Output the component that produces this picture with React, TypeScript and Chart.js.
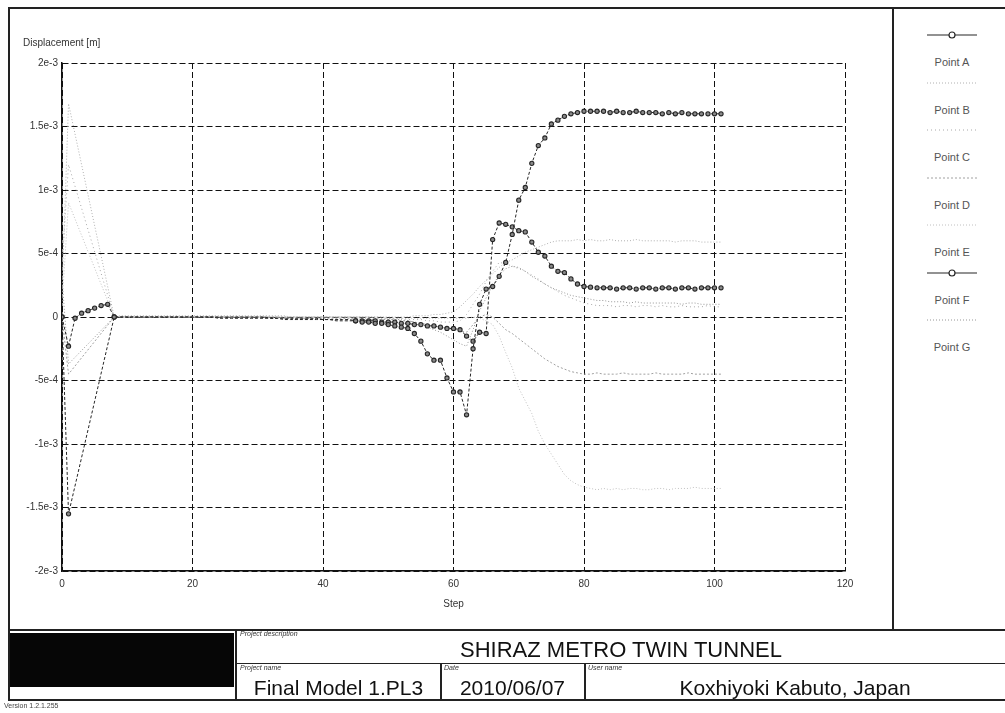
import React, { useEffect, useRef } from "react";
import { Chart, registerables } from "chart.js";

Chart.register(...registerables);

// Calculation step numbers (x axis)
const steps = [
  0, 1, 2, 3, 4, 5, 6, 7, 8, 9,
  10, 11, 12, 13, 14, 15, 16, 17, 18, 19,
  20, 21, 22, 23, 24, 25, 26, 27, 28, 29,
  30, 31, 32, 33, 34, 35, 36, 37, 38, 39,
  40, 41, 42, 43, 44, 45, 46, 47, 48, 49,
  50, 51, 52, 53, 54, 55, 56, 57, 58, 59,
  60, 61, 62, 63, 64, 65, 66, 67, 68, 69,
  70, 71, 72, 73, 74, 75, 76, 77, 78, 79,
  80, 81, 82, 83, 84, 85, 86, 87, 88, 89,
  90, 91, 92, 93, 94, 95, 96, 97, 98, 99,
  100, 101,
];

// Displacement [m] per step for each monitored point
const pointA = [
  0, -1.55e-3, null, null, null, null, null, null, 0, 0,
  0, 0, 0, 0, 0, 0, 0, 0, 0, 0,
  0, 0, 0, 0, -1e-5, -1e-5, -1e-5, -1e-5, -1e-5, -1e-5,
  -1e-5, -1e-5, -1e-5, -1e-5, -2e-5, -2e-5, -2e-5, -2e-5, -2e-5, -2e-5,
  -2e-5, -2e-5, -3e-5, -3e-5, -3e-5, -3e-5, -4e-5, -4e-5, -5e-5, -5e-5,
  -6e-5, -7e-5, -8e-5, -9e-5, -1.3e-4, -1.9e-4, -2.9e-4, -3.4e-4, -3.4e-4, -4.8e-4,
  -5.9e-4, -5.9e-4, -7.7e-4, -2.5e-4, 1.0e-4, 2.2e-4, 2.4e-4, 3.2e-4, 4.3e-4, 6.5e-4,
  9.2e-4, 1.02e-3, 1.21e-3, 1.35e-3, 1.41e-3, 1.52e-3, 1.55e-3, 1.58e-3, 1.6e-3, 1.61e-3,
  1.62e-3, 1.62e-3, 1.62e-3, 1.62e-3, 1.61e-3, 1.62e-3, 1.61e-3, 1.61e-3, 1.62e-3, 1.61e-3,
  1.61e-3, 1.61e-3, 1.6e-3, 1.61e-3, 1.6e-3, 1.61e-3, 1.6e-3, 1.6e-3, 1.6e-3, 1.6e-3,
  1.6e-3, 1.6e-3,
];

const pointB = [
  2e-4, 1.68e-3, null, null, null, null, null, null, 0, 1e-5,
  1e-5, 1e-5, 1e-5, 1e-5, 1e-5, 1e-5, 1e-5, 1e-5, 1e-5, 1e-5,
  1e-5, 1e-5, 1e-5, 1e-5, 1e-5, 1e-5, 1e-5, 1e-5, 1e-5, 1e-5,
  1e-5, 1e-5, 1e-5, 1e-5, 1e-5, 0, 0, 0, 0, 0,
  0, 0, 0, 0, 0, 0, 0, 0, 0, 0,
  0, 0, 0, 0, 1e-5, 1e-5, 1e-5, 2e-5, 2e-5, 3e-5,
  4e-5, 8e-5, 1.3e-4, 1.8e-4, 2.4e-4, 2.9e-4, 3.4e-4, 3.9e-4, 4.3e-4, 4.5e-4,
  4.8e-4, 5.1e-4, 5.3e-4, 5.5e-4, 5.7e-4, 5.9e-4, 6.0e-4, 6.0e-4, 6.0e-4, 6.1e-4,
  6.0e-4, 6.1e-4, 6.0e-4, 6.0e-4, 6.1e-4, 6.0e-4, 6.0e-4, 6.0e-4, 6.1e-4, 6.0e-4,
  6.0e-4, 6.0e-4, 6.0e-4, 6.0e-4, 5.9e-4, 6.0e-4, 6.0e-4, 6.0e-4, 5.9e-4, 5.9e-4,
  5.9e-4, 5.9e-4,
];

const pointC = [
  4e-4, 1.2e-3, null, null, null, null, null, null, 0, 0,
  0, 0, 0, 0, 0, 0, 0, 0, 0, 0,
  0, 0, 0, 0, 0, 0, 0, 0, 0, 0,
  0, 0, 0, 0, 0, 0, 0, 0, 0, 0,
  0, 0, 0, 0, 0, -1e-5, -1e-5, -1e-5, -1e-5, -1e-5,
  -1e-5, -1e-5, -1e-5, -2e-5, -2e-5, -2e-5, -3e-5, -3e-5, -4e-5, -4e-5,
  -4e-5, -3e-5, 2e-5, 1.0e-4, 1.8e-4, 2.8e-4, 3.6e-4, 4.3e-4, 4.2e-4, 4.0e-4,
  3.8e-4, 3.6e-4, 3.3e-4, 3.0e-4, 2.6e-4, 2.3e-4, 2.0e-4, 1.7e-4, 1.5e-4, 1.3e-4,
  1.1e-4, 1.0e-4, 9e-5, 9e-5, 9e-5, 8e-5, 9e-5, 9e-5, 8e-5, 9e-5,
  9e-5, 8e-5, 9e-5, 8e-5, 8e-5, 9e-5, 8e-5, 8e-5, 8e-5, 9e-5,
  8e-5, 8e-5,
];

const pointD = [
  0, -4.5e-4, null, null, null, null, null, null, 0, 0,
  0, 0, 0, 0, 0, 0, 0, 0, 0, 0,
  0, 0, 0, 0, 0, 0, 0, 0, 0, 0,
  0, 0, 0, 0, -1e-5, -1e-5, -1e-5, -1e-5, -1e-5, -1e-5,
  -1e-5, -1e-5, -1e-5, -1e-5, -1e-5, -1e-5, -2e-5, -2e-5, -2e-5, -2e-5,
  -2e-5, -2e-5, -3e-5, -3e-5, -4e-5, -5e-5, -6e-5, -7e-5, -8e-5, -9e-5,
  -1.0e-4, -1.1e-4, -1.2e-4, -6e-5, 0, 2e-5, 0, -5e-5, -1.0e-4, -1.3e-4,
  -1.7e-4, -2.1e-4, -2.5e-4, -2.9e-4, -3.3e-4, -3.6e-4, -3.9e-4, -4.1e-4, -4.3e-4, -4.4e-4,
  -4.5e-4, -4.5e-4, -4.4e-4, -4.5e-4, -4.5e-4, -4.5e-4, -4.4e-4, -4.5e-4, -4.5e-4, -4.5e-4,
  -4.5e-4, -4.4e-4, -4.5e-4, -4.5e-4, -4.5e-4, -4.5e-4, -4.4e-4, -4.5e-4, -4.5e-4, -4.5e-4,
  -4.5e-4, -4.5e-4,
];

const pointE = [
  1e-4, 9e-4, null, null, null, null, null, null, 0, 0,
  0, 0, 0, 0, 0, 0, 0, 0, 0, 0,
  0, 0, 0, 0, 0, 0, 0, 0, 0, 0,
  0, 0, 0, 0, 0, 0, 0, 0, 0, 0,
  0, 0, 0, 0, 0, 0, 0, 0, -1e-5, -1e-5,
  -1e-5, -1e-5, -1e-5, -1e-5, -1e-5, -1e-5, -1e-5, -1e-5, -1e-5, -1e-5,
  -1e-5, -1e-5, -1e-5, 0, -1e-5, -3e-5, -6e-5, -1.5e-4, -2.8e-4, -4.0e-4,
  -5.6e-4, -6.6e-4, -7.6e-4, -9.0e-4, -1.0e-3, -1.08e-3, -1.16e-3, -1.24e-3, -1.29e-3, -1.32e-3,
  -1.34e-3, -1.35e-3, -1.36e-3, -1.35e-3, -1.36e-3, -1.35e-3, -1.36e-3, -1.35e-3, -1.35e-3, -1.36e-3,
  -1.36e-3, -1.35e-3, -1.35e-3, -1.36e-3, -1.35e-3, -1.35e-3, -1.35e-3, -1.34e-3, -1.35e-3, -1.35e-3,
  -1.35e-3, -1.35e-3,
];

const pointF = [
  0, -2.3e-4, -1e-5, 3e-5, 5e-5, 7e-5, 9e-5, 1e-4, 0, 0,
  0, 0, 0, 0, 0, 0, 0, 0, 0, 0,
  0, 0, 0, 0, 0, 0, 0, 0, 0, 0,
  0, 0, -1e-5, -1e-5, -1e-5, -1e-5, -1e-5, -1e-5, -1e-5, -1e-5,
  -2e-5, -2e-5, -2e-5, -2e-5, -2e-5, -3e-5, -3e-5, -3e-5, -3e-5, -4e-5,
  -4e-5, -4e-5, -5e-5, -5e-5, -6e-5, -6e-5, -7e-5, -7e-5, -8e-5, -9e-5,
  -9e-5, -1.0e-4, -1.5e-4, -1.9e-4, -1.2e-4, -1.3e-4, 6.1e-4, 7.4e-4, 7.3e-4, 7.1e-4,
  6.8e-4, 6.7e-4, 5.9e-4, 5.1e-4, 4.8e-4, 4.0e-4, 3.6e-4, 3.5e-4, 3.0e-4, 2.6e-4,
  2.4e-4, 2.35e-4, 2.3e-4, 2.3e-4, 2.3e-4, 2.2e-4, 2.3e-4, 2.3e-4, 2.2e-4, 2.3e-4,
  2.3e-4, 2.2e-4, 2.3e-4, 2.3e-4, 2.2e-4, 2.3e-4, 2.3e-4, 2.2e-4, 2.3e-4, 2.3e-4,
  2.3e-4, 2.3e-4,
];

const pointG = [
  3e-4, -3.7e-4, null, null, null, null, null, null, 0, 0,
  0, 0, 0, 0, 0, 0, 0, 0, 0, 0,
  0, 0, 0, 0, 0, 0, 0, 0, 0, 0,
  0, 0, 0, 0, 0, 0, 0, 0, 0, 0,
  0, 0, 0, 0, 0, 0, 0, 0, 0, 0,
  -1e-5, -2e-5, -2e-5, -3e-5, -4e-5, -5e-5, -8e-5, -1.0e-4, -1.2e-4, -1.5e-4,
  -1.8e-4, -2.1e-4, -2.3e-4, -1.0e-4, 5e-5, 1.5e-4, 2.5e-4, 3.3e-4, 3.8e-4, 4.0e-4,
  3.9e-4, 3.6e-4, 3.2e-4, 2.9e-4, 2.6e-4, 2.3e-4, 2.1e-4, 1.9e-4, 1.7e-4, 1.6e-4,
  1.5e-4, 1.4e-4, 1.3e-4, 1.3e-4, 1.2e-4, 1.2e-4, 1.2e-4, 1.1e-4, 1.2e-4, 1.1e-4,
  1.1e-4, 1.1e-4, 1.1e-4, 1.1e-4, 1.1e-4, 1.0e-4, 1.1e-4, 1.1e-4, 1.0e-4, 1.0e-4,
  1.0e-4, 1.0e-4,
];

const seriesNames = ["Point A", "Point B", "Point C", "Point D", "Point E", "Point F", "Point G"];
const seriesValues = [pointA, pointB, pointC, pointD, pointE, pointF, pointG];

// Line appearance per point: dark marked curves for A and F, dotted greys for the rest
const seriesStyles = [
  { color: "#262626", dash: [3, 2], marker: true },
  { color: "#b0b0b0", dash: [1, 2], marker: false },
  { color: "#a8a8a8", dash: [1, 3], marker: false },
  { color: "#a0a0a0", dash: [2, 2], marker: false },
  { color: "#c0c0c0", dash: [1, 2], marker: false },
  { color: "#262626", dash: [3, 2], marker: true },
  { color: "#969696", dash: [1, 2], marker: false },
];

const yTickValues = [-2e-3, -1.5e-3, -1e-3, -5e-4, 0, 5e-4, 1e-3, 1.5e-3, 2e-3];
const yTickLabels = ["-2e-3", "-1.5e-3", "-1e-3", "-5e-4", "0", "5e-4", "1e-3", "1.5e-3", "2e-3"];
const xTickValues = [0, 20, 40, 60, 80, 100, 120];

const FONT = '"Liberation Sans", Arial, sans-serif';

function DisplacementChart() {
  const ref = useRef<HTMLCanvasElement | null>(null);

  useEffect(() => {
    if (!ref.current) return;
    const datasets = seriesValues.map((vals, k) => {
      const st = seriesStyles[k];
      return {
        label: seriesNames[k],
        data: steps.map((s, i) => ({ x: s, y: vals[i] })),
        borderColor: st.color,
        backgroundColor: st.marker ? "#8a8a8a" : st.color,
        borderWidth: 1,
        borderDash: st.dash,
        spanGaps: true,
        tension: 0,
        order: st.marker ? 0 : 1,
        pointStyle: "circle",
        pointBorderColor: st.color,
        pointBorderWidth: 1.1,
        pointRadius: st.marker
          ? (ctx: any) => {
              const r = ctx.raw;
              if (!r || r.y === null) return 0;
              return r.x > 8 && r.x < 45 ? 0 : 2.1;
            }
          : 0,
      };
    });

    const chart = new Chart(ref.current, {
      type: "line",
      data: { datasets: datasets as any },
      options: {
        animation: false,
        responsive: false,
        events: [],
        layout: { padding: { top: 63, right: 48, left: 0, bottom: 0 } },
        plugins: { legend: { display: false }, tooltip: { enabled: false }, title: { display: false } },
        scales: {
          x: {
            type: "linear",
            min: 0,
            max: 120,
            afterBuildTicks: (scale: any) => {
              scale.ticks = xTickValues.map((v) => ({ value: v }));
            },
            afterFit: (scale: any) => {
              scale.height = 58;
            },
            ticks: {
              color: "#333",
              font: { family: FONT, size: 10 },
              padding: 7,
              maxRotation: 0,
              callback: (v: any) => String(v),
            },
            grid: { color: "#111", lineWidth: 1, drawTicks: false },
            border: { display: true, color: "#111", width: 1.5, dash: [6, 3] },
            title: {
              display: true,
              text: "Step",
              color: "#333",
              font: { family: FONT, size: 10 },
              padding: { top: 0, bottom: 19 },
            },
          },
          y: {
            type: "linear",
            min: -2e-3,
            max: 2e-3,
            afterBuildTicks: (scale: any) => {
              scale.ticks = yTickValues.map((v) => ({ value: v }));
            },
            afterFit: (scale: any) => {
              scale.width = 62;
            },
            ticks: {
              color: "#333",
              font: { family: FONT, size: 10 },
              padding: 4,
              callback: (v: any) => {
                const i = yTickValues.findIndex((t) => Math.abs(t - Number(v)) < 1e-9);
                return i >= 0 ? yTickLabels[i] : "";
              },
            },
            grid: { color: "#111", lineWidth: 1, drawTicks: false },
            border: { display: true, color: "#111", width: 1.5, dash: [6, 3] },
          },
        },
      },
    });
    return () => chart.destroy();
  }, []);

  return (
    <canvas
      ref={ref}
      width={893}
      height={629}
      style={{ position: "absolute", left: 0, top: 0, width: 893, height: 629 }}
    />
  );
}

function LegendSample({ k }: { k: number }) {
  const st = seriesStyles[k];
  return (
    <svg width={50} height={10} style={{ display: "block" }}>
      <line
        x1={0}
        y1={5}
        x2={50}
        y2={5}
        stroke={st.color}
        strokeWidth={st.marker ? 1.2 : 1}
        strokeDasharray={st.marker ? undefined : st.dash.join(" ")}
      />
      {st.marker && <circle cx={25} cy={5} r={3} fill="#fff" stroke={st.color} strokeWidth={1.2} />}
    </svg>
  );
}

function Line({ l, t, w, h }: { l: number; t: number; w: number; h: number }) {
  return <div style={{ position: "absolute", left: l, top: t, width: w, height: h, background: "#222" }} />;
}

export default function App() {
  const small: React.CSSProperties = {
    position: "absolute",
    fontSize: 7,
    fontStyle: "italic",
    color: "#333",
    whiteSpace: "nowrap",
  };
  const big: React.CSSProperties = {
    position: "absolute",
    fontSize: 21,
    color: "#111",
    whiteSpace: "nowrap",
    textAlign: "center",
    lineHeight: "24px",
  };
  return (
    <div
      style={{
        position: "fixed",
        left: 0,
        top: 0,
        width: 1005,
        height: 713,
        background: "#fff",
        overflow: "hidden",
        fontFamily: FONT,
      }}
    >
      <DisplacementChart />

      <div style={{ position: "absolute", left: 23, top: 37, fontSize: 10, color: "#333", whiteSpace: "nowrap" }}>
        Displacement [m]
      </div>

      {seriesNames.map((name, k) => (
        <div key={name} style={{ position: "absolute", left: 927, top: 30 + k * 47.5, width: 50 }}>
          <LegendSample k={k} />
          <div
            style={{
              marginTop: 16,
              fontSize: 11,
              color: "#555",
              textAlign: "center",
              whiteSpace: "nowrap",
            }}
          >
            {name}
          </div>
        </div>
      ))}

      {/* sheet frame */}
      <Line l={8} t={7} w={997} h={2} />
      <Line l={8} t={7} w={2} h={694} />
      <Line l={892} t={7} w={2} h={622} />
      <Line l={8} t={629} w={997} h={2} />
      <Line l={235} t={629} w={2} h={71} />
      <Line l={236} t={663} w={769} h={1} />
      <Line l={440} t={663} w={1.5} h={37} />
      <Line l={584} t={663} w={1.5} h={37} />
      <Line l={8} t={699} w={997} h={2} />
      <div style={{ position: "absolute", left: 10, top: 633, width: 224, height: 54, background: "#060606" }} />

      {/* title block */}
      <div style={{ ...small, left: 240, top: 630 }}>Project description</div>
      <div style={{ ...big, fontSize: 22, left: 237, width: 768, top: 638 }}>SHIRAZ METRO TWIN TUNNEL</div>
      <div style={{ ...small, left: 240, top: 664 }}>Project name</div>
      <div style={{ ...big, left: 237, width: 203, top: 676 }}>Final Model 1.PL3</div>
      <div style={{ ...small, left: 444, top: 664 }}>Date</div>
      <div style={{ ...big, left: 441, width: 143, top: 676 }}>2010/06/07</div>
      <div style={{ ...small, left: 588, top: 664 }}>User name</div>
      <div style={{ ...big, left: 585, width: 420, top: 676 }}>Koxhiyoki Kabuto, Japan</div>
      <div style={{ position: "absolute", left: 4, top: 702, fontSize: 7, color: "#444", whiteSpace: "nowrap" }}>
        Version 1.2.1.255
      </div>
    </div>
  );
}
